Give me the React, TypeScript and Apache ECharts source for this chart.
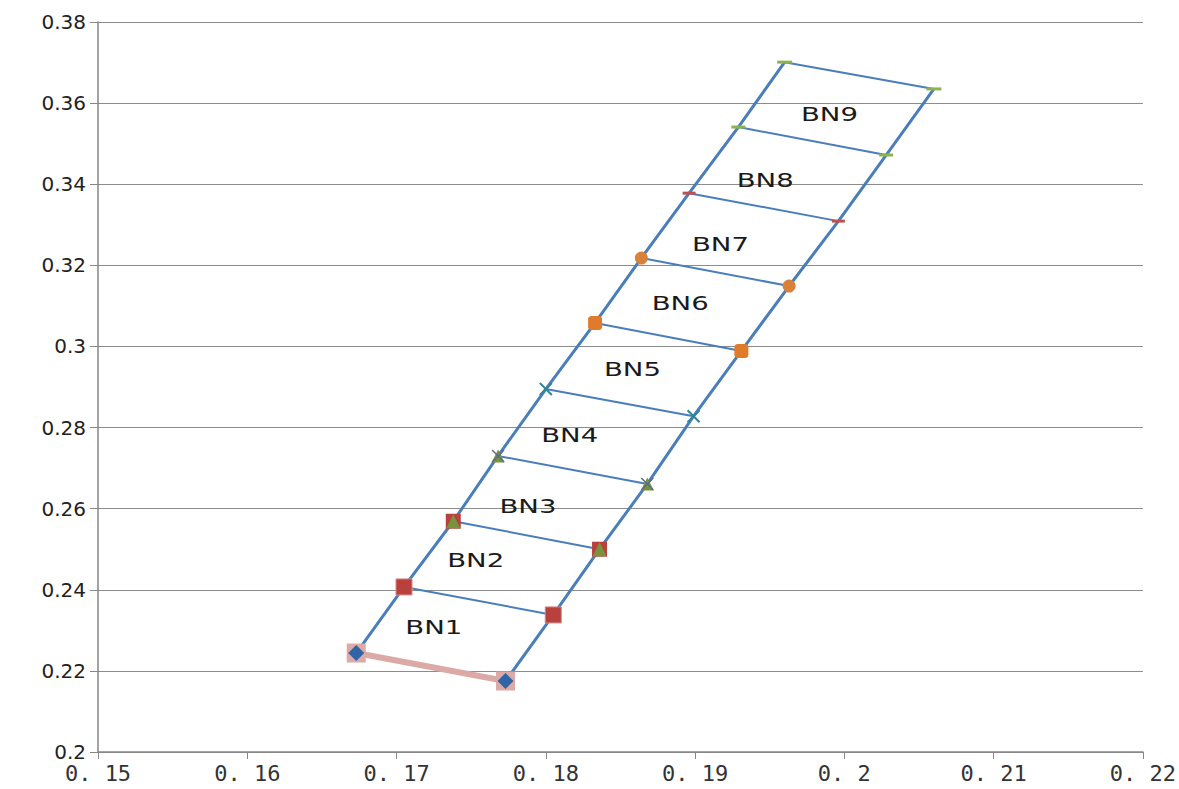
import React, { useEffect, useRef } from "react";
import * as echarts from "echarts";

// Left rail points (bottom to top), then right rail points
const leftX = [0.1673, 0.1705, 0.1738, 0.1768, 0.18, 0.1833, 0.1864, 0.1896, 0.1929, 0.196];
const leftY = [0.2244, 0.2407, 0.2569, 0.273, 0.2895, 0.3058, 0.3218, 0.3378, 0.3541, 0.3701];
const rightX = [0.1773, 0.1805, 0.1836, 0.1868, 0.1899, 0.1931, 0.1963, 0.1996, 0.2028, 0.206];
const rightY = [0.2175, 0.2338, 0.25, 0.2661, 0.2828, 0.2989, 0.3149, 0.3309, 0.3472, 0.3635];

const bnNames = ["BN1", "BN2", "BN3", "BN4", "BN5", "BN6", "BN7", "BN8", "BN9"];
const bnX = [0.1725, 0.1753, 0.1788, 0.1816, 0.1858, 0.189, 0.1917, 0.1947, 0.199];
const bnY = [0.2306, 0.2471, 0.2604, 0.2779, 0.2944, 0.3105, 0.325, 0.341, 0.3571];

const xTicks = [0.15, 0.16, 0.17, 0.18, 0.19, 0.2, 0.21, 0.22];

const X_PATH = "path://M0,0L10,10M10,0L0,10";

// marker styles per level (drawn in order)
const markerStyles: any[][] = [
  [
    { symbol: "rect", size: 19, color: "#DDAAA8" },
    { symbol: "diamond", size: 16, color: "#2F64A6" },
  ],
  [{ symbol: "rect", size: 16, color: "#B8403D", border: "#D28886" }],
  [
    { symbol: "rect", size: 15, color: "#B8403D" },
    { symbol: "triangle", size: 14, color: "#77933C" },
  ],
  [
    { symbol: "triangle", size: 13, color: "#77933C" },
    { symbol: X_PATH, size: 12, color: "none", border: "#5B6B8A", bw: 1.5 },
  ],
  [{ symbol: X_PATH, size: 12, color: "none", border: "#31849B", bw: 2 }],
  [{ symbol: "roundRect", size: 14, color: "#E07B2C" }],
  [{ symbol: "circle", size: 13, color: "#D9813A" }],
  [{ symbol: "rect", size: [13, 3], color: "#C0504D" }],
  [{ symbol: "rect", size: [14, 3], color: "#8DB34F" }],
  [{ symbol: "rect", size: [15, 3], color: "#8DB34F" }],
];

export default function App() {
  const ref = useRef<HTMLDivElement>(null);
  useEffect(() => {
    if (!ref.current) return;
    const chart = echarts.init(ref.current, null, { renderer: "svg" });
    const series: any[] = [];
    series.push({
      type: "line",
      data: leftX.map((x, i) => [x, leftY[i]]),
      symbol: "none",
      lineStyle: { color: "#4A7EBB", width: 3 },
      z: 2,
    });
    series.push({
      type: "line",
      data: rightX.map((x, i) => [x, rightY[i]]),
      symbol: "none",
      lineStyle: { color: "#4A7EBB", width: 3 },
      z: 2,
    });
    leftX.forEach((x, i) => {
      series.push({
        type: "line",
        data: [
          [x, leftY[i]],
          [rightX[i], rightY[i]],
        ],
        symbol: "none",
        lineStyle: i === 0 ? { color: "#DBA9A6", width: 6 } : { color: "#4A7EBB", width: 2 },
        z: 3,
      });
    });
    markerStyles.forEach((list, i) => {
      list.forEach((m, k) => {
        series.push({
          type: "scatter",
          data: [
            [leftX[i], leftY[i]],
            [rightX[i], rightY[i]],
          ],
          symbol: m.symbol,
          symbolSize: m.size,
          itemStyle: {
            color: m.color,
            borderColor: m.border || "transparent",
            borderWidth: m.bw != null ? m.bw : m.border ? 1 : 0,
            opacity: 1,
          },
          z: 4 + k,
        });
      });
    });
    series.push({
      type: "custom",
      data: bnX.map((x, i) => [x, bnY[i]]),
      renderItem: (params: any, api: any) => {
        const p = api.coord([api.value(0), api.value(1)]);
        return {
          type: "text",
          x: p[0],
          y: p[1],
          scaleX: 1.45,
          style: {
            text: bnNames[params.dataIndex],
            fontSize: 19,
            fontFamily: "DejaVu Sans",
            fill: "#1a1a1a",
            align: "center",
            verticalAlign: "middle",
            textAlign: "center",
            textVerticalAlign: "middle",
          },
        };
      },
      z: 10,
    });

    chart.setOption({
      animation: false,
      backgroundColor: "#ffffff",
      grid: { left: 98, right: 31, top: 22, bottom: 37, containLabel: false },
      xAxis: {
        type: "value",
        min: 0.15,
        max: 0.22,
        interval: 0.01,
        axisLine: { show: true, onZero: false, lineStyle: { color: "#868686", width: 1.5 } },
        axisTick: { show: true, length: 7, lineStyle: { color: "#868686" } },
        splitLine: { show: false },
        axisLabel: {
          fontFamily: "DejaVu Sans Mono",
          fontSize: 22,
          color: "#333",
          margin: 10,
          formatter: (v: number) => {
            const t = xTicks.find((q) => Math.abs(q - v) < 1e-9);
            const s = String(+(t ?? v).toFixed(2));
            return s.replace(".", ". ");
          },
        },
      },
      yAxis: {
        type: "value",
        min: 0.2,
        max: 0.38,
        interval: 0.02,
        axisLine: { show: true, onZero: false, lineStyle: { color: "#868686", width: 1.5 } },
        axisTick: { show: true, length: 8, lineStyle: { color: "#868686" } },
        splitLine: { show: true, lineStyle: { color: "#8C8C8C", width: 1 } },
        axisLabel: {
          fontFamily: "DejaVu Sans",
          fontSize: 20,
          color: "#222",
          margin: 12,
          formatter: (v: number) => String(+v.toFixed(2)),
        },
      },
      series,
    });
    return () => chart.dispose();
  }, []);
  return (
    <div
      ref={ref}
      style={{ position: "absolute", left: 0, top: 0, width: 1179, height: 789 }}
    />
  );
}
